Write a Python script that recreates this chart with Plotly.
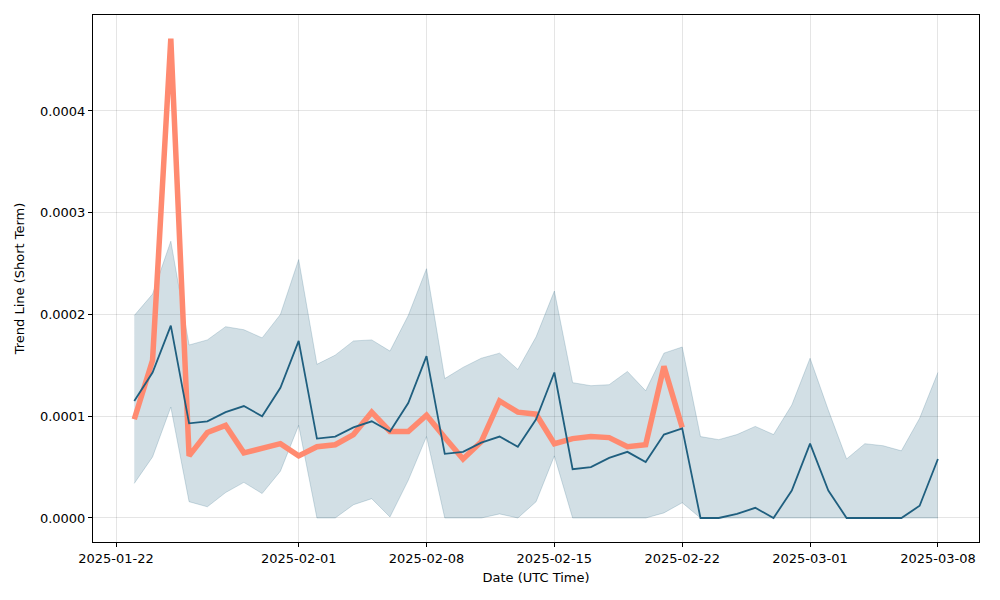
import plotly.graph_objects as go
import pandas as pd

# Daten
dates = pd.date_range("2025-01-23", "2025-03-08", freq="D")

mean_line = [
    0.000115, 0.000143, 0.000189, 0.000093, 0.000095, 0.000104, 0.000110, 0.000100,
    0.000128, 0.000174, 0.000078, 0.000080, 0.000089, 0.000095, 0.000085, 0.000113,
    0.000159, 0.000063, 0.000065, 0.000074, 0.000080, 0.000070, 0.000097, 0.000143,
    0.000048, 0.000050, 0.000059, 0.000065, 0.000055, 0.000082, 0.000088, 0.0,
    0.0, 0.000004, 0.000010, 0.0, 0.000027, 0.000073, 0.000027, 0.0,
    0.0, 0.0, 0.0, 0.000012, 0.000058,
]

upper_band = [
    0.000199, 0.000220, 0.000272, 0.000170, 0.000175, 0.000188, 0.000185, 0.000177,
    0.000200, 0.000254, 0.000151, 0.000160, 0.000174, 0.000175, 0.000164, 0.000199,
    0.000245, 0.000137, 0.000148, 0.000157, 0.000162, 0.000146, 0.000178, 0.000223,
    0.000133, 0.000130, 0.000131, 0.000144, 0.000125, 0.000162, 0.000168, 0.000080,
    0.000077, 0.000082, 0.000090, 0.000082, 0.000111, 0.000157, 0.000106, 0.000058,
    0.000073, 0.000071, 0.000066, 0.000098, 0.000143,
]

lower_band = [
    0.000034, 0.000060, 0.000109, 0.000016, 0.000011, 0.000025, 0.000035, 0.000024,
    0.000046, 0.000091, 0.0, 0.0, 0.000013, 0.000019, 0.000001, 0.000037,
    0.000080, 0.0, 0.0, 0.0, 0.000004, 0.0, 0.000016, 0.000061,
    0.0, 0.0, 0.0, 0.0, 0.0, 0.000005, 0.000015, 0.0,
    0.0, 0.0, 0.0, 0.0, 0.0, 0.0, 0.0, 0.0,
    0.0, 0.0, 0.0, 0.0, 0.0,
]

# Orange Linie nur bis 2025-02-22
actual_dates = pd.date_range("2025-01-23", "2025-02-22", freq="D")
actual_line = [
    0.000097, 0.000155, 0.000471, 0.000061, 0.000084, 0.000091, 0.000064, 0.000068,
    0.000073, 0.000061, 0.000070, 0.000072, 0.000082, 0.000104, 0.000085, 0.000085,
    0.000101, 0.000079, 0.000058, 0.000075, 0.000115, 0.000104, 0.000102, 0.000073,
    0.000078, 0.000080, 0.000079, 0.000070, 0.000072, 0.000149, 0.000089,
]

tick_vals = ["2025-01-22", "2025-02-01", "2025-02-08", "2025-02-15",
             "2025-02-22", "2025-03-01", "2025-03-08"]
y_ticks = [0.0, 0.0001, 0.0002, 0.0003, 0.0004]

BLUE = "#1f5f7f"
ORANGE = "#ff8a70"

fig = go.Figure()

# Band (unten, dann oben mit fill)
fig.add_trace(go.Scatter(
    x=dates, y=lower_band, mode="lines",
    line=dict(color="rgba(31,95,127,0.2)", width=1),
    showlegend=False, hoverinfo="skip",
))
fig.add_trace(go.Scatter(
    x=dates, y=upper_band, mode="lines",
    line=dict(color="rgba(31,95,127,0.2)", width=1),
    fill="tonexty", fillcolor="rgba(31,95,127,0.2)",
    showlegend=False, hoverinfo="skip",
))
fig.add_trace(go.Scatter(
    x=actual_dates, y=actual_line, mode="lines",
    line=dict(color=ORANGE, width=5.5),
    showlegend=False,
))
fig.add_trace(go.Scatter(
    x=dates, y=mean_line, mode="lines",
    line=dict(color=BLUE, width=1.8),
    showlegend=False,
))

axis_common = dict(
    showline=True, linecolor="black", linewidth=1, mirror=True,
    ticks="outside", ticklen=4, tickcolor="black",
    showgrid=True, gridcolor="rgba(0,0,0,0.1)", gridwidth=1,
    zeroline=False,
    tickfont=dict(size=13, color="black"),
)

# Seite hat 8px Body-Rand -> Margins entsprechend verschoben
fig.update_layout(
    width=1000, height=600,
    paper_bgcolor="white", plot_bgcolor="white",
    margin=dict(l=85, r=29, t=7, b=66),
    font=dict(family="DejaVu Sans", size=13, color="black"),
    xaxis=dict(
        **axis_common,
        range=["2025-01-20 17:45", "2025-03-10 06:00"],
        tickmode="array", tickvals=tick_vals, ticktext=tick_vals,
        title=dict(text="Date (UTC Time)", font=dict(size=13), standoff=8),
    ),
    yaxis=dict(
        **axis_common,
        range=[-0.0000236, 0.0004943],
        tickmode="array", tickvals=y_ticks,
        tickformat=".4f",
        title=dict(text="Trend Line (Short Term)", font=dict(size=13), standoff=12),
    ),
)

fig.write_html("out.html")
